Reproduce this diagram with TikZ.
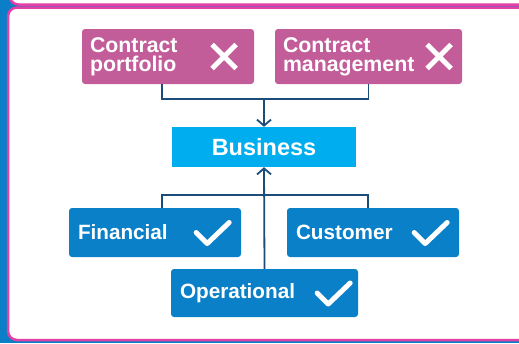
\documentclass[tikz,border=0pt]{standalone}
\usepackage{fontspec}
\setmainfont{Liberation Sans}
\usetikzlibrary{calc,arrows.meta}
\definecolor{stripblue}{HTML}{0A7FC8}
\definecolor{framepink}{HTML}{E33FA5}
\definecolor{nopink}{HTML}{C25D99}
\definecolor{yesblue}{HTML}{0A80C9}
\definecolor{hubblue}{HTML}{00AEEF}
\definecolor{linknavy}{HTML}{1C4C7A}
\tikzset{
	frame/.style={draw=framepink, line width=2.5pt, fill=white, rounded corners=9pt},
	nobox/.style={fill=nopink, rounded corners=3pt, text=white, align=left, inner xsep=8pt, inner ysep=0pt, minimum height=55pt, font=\fontsize{21.3}{19}\selectfont\bfseries},
	yesbox/.style={fill=yesblue, rounded corners=3pt, text=white, align=left, inner xsep=9pt, inner ysep=0pt, minimum height=49pt, font=\fontsize{20.7}{20.7}\selectfont\bfseries},
	hubbox/.style={fill=hubblue, text=white, inner sep=0pt, minimum width=184pt, minimum height=40pt, font=\fontsize{23.5}{23.5}\selectfont\bfseries},
	link/.style={draw=linknavy, line width=1.8pt},
	markline/.style={draw=white, line width=5pt},
}
\def\crossmark(#1){\draw[markline, line cap=butt] ($(#1)+(-12,-12)$) -- ++(24,24) ($(#1)+(12,-12)$) -- ++(-24,24);}
\def\tickmark(#1){\draw[markline, line cap=round, line join=round] ($(#1)+(-17,0)$) -- ++(11,11) -- ++(22,-21);}

\begin{document}
\begin{tikzpicture}[x=1pt, y=-1pt]
		%%%%% START %%%%%
		\clip (0, 0) rectangle (519, 343);
		\fill[stripblue] (0, 0) rectangle (519, 343);
		
		\draw[frame] (9.5, -40) rectangle (560, 4.5);
		\draw[frame] (8, 7.5) rectangle (560, 340);
		
		\node[nobox, text width=156pt] (port) at (168, 56.5) {Contract\\portfolio};
		\node[nobox, text width=171pt] (mgmt) at (368.5, 56.5) {Contract\\management};
		\crossmark([xshift=-30pt]port.east);
		\crossmark([xshift=-23pt]mgmt.east);
		
		\node[hubbox] (biz) at (264, 147) {Business};
		
		\node[yesbox, text width=154pt] (fin) at (155, 232.5) {Financial};
		\node[yesbox, text width=154pt] (cust) at (373, 232.5) {Customer};
		\node[yesbox, text width=169pt, minimum height=48pt] (oper) at (264.5, 293) {Operational};
		\tickmark([xshift=-28pt]fin.east);
		\tickmark([xshift=-28pt]cust.east);
		\tickmark([xshift=-24pt]oper.east);
		
		\coordinate (jtop) at (264, 99);
		\coordinate (jbot) at (264, 195);
		\draw[link] ([xshift=-6pt]port.south) |- (jtop) -| (mgmt.south);
		\draw[link, -{Straight Barb[length=6pt, width=14pt]}] (jtop) -- (biz.north);
		\draw[link] ([xshift=7pt]fin.north) |- (jbot) -| ([xshift=-5pt]cust.north);
		\draw[link, -{Straight Barb[length=6pt, width=14pt]}] (oper.north) -- (biz.south);
		
		%%%%% END %%%%%
	\end{tikzpicture}
\end{document}
